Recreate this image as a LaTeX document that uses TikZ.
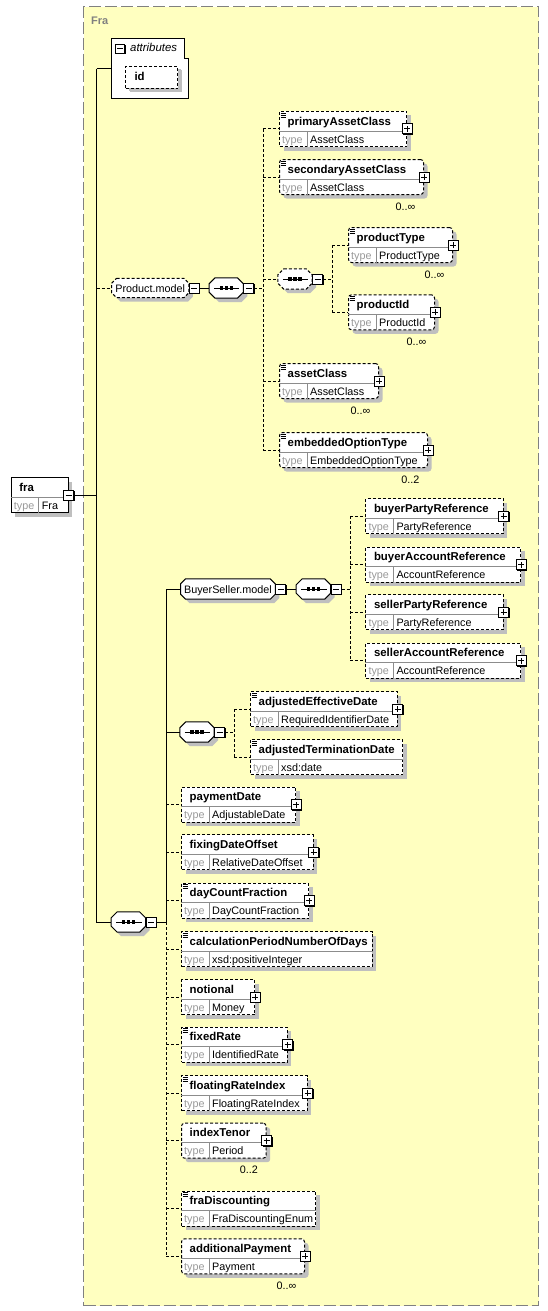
\documentclass[tikz,border=0pt]{standalone}
\usepackage{fontspec}
\setmainfont{Liberation Sans}
\usetikzlibrary{shadows}
\definecolor{typebg}{RGB}{255,255,192}

% element box: [style]{name}{x}{y}{width}{label}{type}
\newcommand{\xel}[7][]{%
  \node[elem, #1, minimum width=#5pt, anchor=north west] (#2) at (#3,#4) {};
  \draw[rowline] ([yshift=-20pt]#2.north west) -- ([yshift=-20pt]#2.north east);
  \draw[rowline] ([xshift=28pt]#2.south west) -- ([xshift=28pt,yshift=-20pt]#2.north west);
  \node[nm, anchor=base west] (#2-n) at ([xshift=8.5pt,yshift=-14pt]#2.north west) {#6};
  \node[tp, anchor=base west] (#2-k) at ([xshift=3pt,yshift=4pt]#2.south west) {type};
  \node[tv, anchor=base west] (#2-t) at ([xshift=31pt,yshift=4pt]#2.south west) {#7};
}
\newcommand{\xplus}[1]{\node[plusbox] (#1-x) at (#1.east) {};}
\newcommand{\xdoc}[1]{\foreach \d in {2,4,6} \draw[line width=0.8pt] ([xshift=1.5pt,yshift=-\d pt]#1.north west) -- ++(5,0);}
\newcommand{\xocc}[2]{\node[occ, anchor=base east] (#1-o) at ([xshift=-8.5pt,yshift=-15pt]#1.south east) {#2};}
% octagon outline round a node: [style]{node}{chamfer}
\newcommand{\octo}[3][]{%
  \fill[black!25, transform canvas={shift={(4pt,-4pt)}}] ([xshift=#3]#2.north west) -- ([xshift=-#3]#2.north east) -- ([yshift=-#3]#2.north east) -- ([yshift=#3]#2.south east) -- ([xshift=-#3]#2.south east) -- ([xshift=#3]#2.south west) -- ([yshift=#3]#2.south west) -- ([yshift=-#3]#2.north west) -- cycle;
  \draw[fill=white, line width=1pt, #1] ([xshift=#3]#2.north west) -- ([xshift=-#3]#2.north east) -- ([yshift=-#3]#2.north east) -- ([yshift=#3]#2.south east) -- ([xshift=-#3]#2.south east) -- ([xshift=#3]#2.south west) -- ([yshift=#3]#2.south west) -- ([yshift=-#3]#2.north west) -- cycle;
}
\newcommand{\seqdots}[1]{%
  \draw[line width=1pt] ([xshift=5pt]#1.west) -- ([xshift=-4pt]#1.east);
  \foreach \d in {-5,0,5} \fill ([xshift=\d pt]#1.center) +(-1.7pt,-1.6pt) rectangle +(1.7pt,1.6pt);
}

\begin{document}
\begin{tikzpicture}[x=1pt, y=-1pt,
    link/.style={line width=1pt},
    opt/.style={line width=1pt, dash pattern=on 3pt off 2pt},
    elem/.style={draw, fill=white, line width=1pt, dash pattern=on 3pt off 2pt, minimum height=35pt, inner sep=0pt,
      drop shadow={shadow xshift=4pt, shadow yshift=-4pt, fill=black!25, opacity=1}},
    multi/.style={rounded corners=3pt},
    must/.style={solid},
    rowline/.style={draw=black!45, line width=0.8pt},
    nm/.style={font=\fontsize{11.4}{13}\selectfont\bfseries, inner sep=0pt},
    tp/.style={font=\fontsize{10.8}{12}\selectfont, text=black!40, inner sep=0pt},
    tv/.style={font=\fontsize{10.8}{12}\selectfont, inner sep=0pt},
    occ/.style={font=\fontsize{10.8}{12}\selectfont, inner sep=0pt},
    grplbl/.style={font=\fontsize{10.8}{12}\selectfont, inner sep=0pt},
    box/.style={inner sep=0pt, minimum height=20pt},
    tog/.style={draw, fill=white, line width=1pt, minimum size=10pt, inner sep=0pt,
      drop shadow={shadow xshift=0.8pt, shadow yshift=-0.8pt, fill=black, opacity=1}},
    plusbox/.style={tog, path picture={\draw[line width=1pt]
      ([xshift=-3pt]path picture bounding box.center) -- ([xshift=3pt]path picture bounding box.center)
      ([yshift=-3pt]path picture bounding box.center) -- ([yshift=3pt]path picture bounding box.center);}},
    minusbox/.style={tog, path picture={\draw[line width=1pt]
      ([xshift=-3pt]path picture bounding box.center) -- ([xshift=3pt]path picture bounding box.center);}},
  ]
  \useasboundingbox (0,0) rectangle (548,1311);

  % complex type Fra
  \node[draw=black!50, line width=1.3pt, dash pattern=on 12pt off 4pt, fill=typebg, inner sep=0pt,
    minimum width=455pt, minimum height=1299pt, anchor=north west] (fratype) at (83,6) {};
  \node[font=\fontsize{11}{13}\selectfont\bfseries, text=black!50, inner sep=0pt, anchor=base west] (fratype-l) at (91,24.5) {Fra};

  % root element
  \xel[must]{fra}{10.7}{477.3}{57}{fra}{Fra}
  \node[minusbox] (fra-m) at (fra.east) {};

  % attributes
  \node[inner sep=0pt, minimum width=76.6pt, minimum height=58.7pt, anchor=north west] (attr) at (111.7,39) {};
  \draw[fill=white, line width=1pt] (attr.north west) -- ([xshift=-4pt]attr.north east) -- ([xshift=-4pt,yshift=-20pt]attr.north east)
    -- ([yshift=-20pt]attr.north east) -- (attr.south east) -- (attr.south west) -- cycle;
  \node[minusbox, minimum size=9pt] (attr-m) at ([xshift=8.5pt,yshift=-10pt]attr.north west) {};
  \node[grplbl, font=\fontsize{11.4}{13}\selectfont\itshape, anchor=base west] (attr-l) at ([xshift=18.3pt,yshift=-13pt]attr.north west) {attributes};
  \node[elem, minimum width=52.3pt, minimum height=22pt, anchor=north west,
    drop shadow={shadow xshift=3pt, shadow yshift=-3pt, fill=black!25, opacity=1}] (id) at (125,66) {};
  \node[nm, anchor=base west] (id-n) at (134.3,81) {id};

  % Product.model
  \node[box, minimum width=77pt, minimum height=19pt] (pmod) at (150.2,288) {};
  \octo[opt]{pmod}{5pt}
  \node[grplbl, anchor=base] (pmod-l) at ([yshift=-4pt]pmod.center) {Product.model};
  \node[minusbox, anchor=west] (pmod-m) at (pmod.east) {};
  \node[box, minimum width=34pt] (c1) at (226.2,288) {};
  \octo{c1}{6pt}
  \seqdots{c1}
  \node[minusbox, anchor=west] (c1-m) at (c1.east) {};

  \xel{pac}{279}{111}{127}{primaryAssetClass}{AssetClass}
  \xel[multi]{sac}{279}{159}{144}{secondaryAssetClass}{AssetClass}
  \node[box, minimum width=34pt] (c2) at (295,279) {};
  \octo[opt]{c2}{6pt}
  \seqdots{c2}
  \node[minusbox, anchor=west] (c2-m) at (c2.east) {};
  \xel[multi]{ptype}{348}{227}{104}{productType}{ProductType}
  \xel[multi]{pid}{348}{294.3}{86}{productId}{ProductId}
  \xel[multi]{acls}{279}{363}{99}{assetClass}{AssetClass}
  \xel[multi]{eot}{279}{432}{148}{embeddedOptionType}{EmbeddedOptionType}
  \foreach \n in {pac,sac,ptype,pid,acls,eot} {\xdoc{\n} \xplus{\n}}
  \xocc{sac}{0..∞}
  \xocc{ptype}{0..∞}
  \xocc{pid}{0..∞}
  \xocc{acls}{0..∞}
  \xocc{eot}{0..2}

  % BuyerSeller.model
  \node[box, minimum width=94.3pt] (bsmod) at (227.9,589) {};
  \octo{bsmod}{5pt}
  \node[grplbl, anchor=base] (bsmod-l) at ([yshift=-4pt]bsmod.center) {BuyerSeller.model};
  \node[minusbox, anchor=west] (bsmod-m) at (bsmod.east) {};
  \node[box, minimum width=34pt] (c3) at (313.4,589) {};
  \octo{c3}{6pt}
  \seqdots{c3}
  \node[minusbox, anchor=west] (c3-m) at (c3.east) {};
  \xel{bpr}{365.3}{498.3}{137.4}{buyerPartyReference}{PartyReference}
  \xel{bar}{365.3}{546.7}{154.7}{buyerAccountReference}{AccountReference}
  \xel{spr}{365.3}{594.3}{137.4}{sellerPartyReference}{PartyReference}
  \xel{sar}{365.3}{642.7}{154.7}{sellerAccountReference}{AccountReference}
  \foreach \n in {bpr,bar,spr,sar} {\xplus{\n}}

  % dates sequence
  \node[box, minimum width=34pt] (c4) at (197,732) {};
  \octo{c4}{6pt}
  \seqdots{c4}
  \node[minusbox, anchor=west] (c4-m) at (c4.east) {};
  \xel{aed}{250}{691}{146.7}{adjustedEffectiveDate}{RequiredIdentifierDate}
  \xel{atd}{250}{739}{152.3}{adjustedTerminationDate}{xsd:date}
  \xdoc{aed} \xdoc{atd} \xplus{aed}

  % main sequence
  \node[box, minimum width=34pt] (c5) at (128.4,922) {};
  \octo{c5}{6pt}
  \seqdots{c5}
  \node[minusbox, anchor=west] (c5-m) at (c5.east) {};
  \xel{pdate}{181}{786.7}{114}{paymentDate}{AdjustableDate}
  \xel{fdo}{181}{834.3}{131.7}{fixingDateOffset}{RelativeDateOffset}
  \xel{dcf}{181}{882.7}{127.3}{dayCountFraction}{DayCountFraction}
  \xel{cpnd}{181}{931}{190.7}{calculationPeriodNumberOfDays}{xsd:positiveInteger}
  \xel{notl}{181}{979}{73}{notional}{Money}
  \xel{frate}{181}{1026.7}{105.7}{fixedRate}{IdentifiedRate}
  \xel{fri}{181}{1075}{125.7}{floatingRateIndex}{FloatingRateIndex}
  \xel[multi]{itenor}{181}{1122.7}{84.7}{indexTenor}{Period}
  \xel{fradisc}{181}{1190.7}{134}{fraDiscounting}{FraDiscountingEnum}
  \xel[multi]{addpay}{181}{1238.3}{123}{additionalPayment}{Payment}
  \foreach \n in {dcf,cpnd,frate,fri,fradisc} {\xdoc{\n}}
  \foreach \n in {pdate,fdo,dcf,notl,frate,fri,itenor,addpay} {\xplus{\n}}
  \xocc{itenor}{0..2}
  \xocc{addpay}{0..∞}

  % connectors
  \coordinate (trunk) at (96.7,69);
  \draw[link] (fra-m.east) -- (fra-m.east -| trunk);
  \draw[link] (trunk) -- (trunk -| attr.west);
  \draw[link] (trunk) -- (trunk |- c5.west) -- (c5.west);
  \draw[opt] (trunk |- pmod.west) -- (pmod.west);
  \draw[link] (pmod-m.east) -- (c1.west);

  \coordinate (pmbus) at (263.3,288);
  \draw[opt] (c1-m.east) -- (pmbus);
  \draw[opt] (pmbus |- pac.west) -- (pmbus |- eot.west);
  \foreach \n in {pac,sac,c2,acls,eot} \draw[opt] (pmbus |- \n.west) -- (\n.west);
  \coordinate (ptbus) at (332,279);
  \draw[opt] (c2-m.east) -- (ptbus);
  \draw[opt] (ptbus |- ptype.west) -- (ptbus |- pid.west);
  \foreach \n in {ptype,pid} \draw[opt] (ptbus |- \n.west) -- (\n.west);

  \coordinate (bus) at (166,922);
  \draw[link] (c5-m.east) -- (bus);
  \draw[link] (bus) -- (bus |- bsmod.west) -- (bsmod.west);
  \draw[link] (bus |- c4.west) -- (c4.west);
  \draw[opt] (bus) -- (bus |- addpay.west);
  \foreach \n in {pdate,fdo,dcf,cpnd,notl,frate,fri,itenor,fradisc,addpay} \draw[opt] (bus |- \n.west) -- (\n.west);
  \draw[link] (bsmod-m.east) -- (c3.west);

  \coordinate (bsbus) at (350,589);
  \draw[opt] (c3-m.east) -- (bsbus);
  \draw[opt] (bsbus |- bpr.west) -- (bsbus |- sar.west);
  \foreach \n in {bpr,bar,spr,sar} \draw[opt] (bsbus |- \n.west) -- (\n.west);

  \coordinate (dtbus) at (234,732);
  \draw[opt] (c4-m.east) -- (dtbus);
  \draw[opt] (dtbus |- aed.west) -- (dtbus |- atd.west);
  \foreach \n in {aed,atd} \draw[opt] (dtbus |- \n.west) -- (\n.west);
\end{tikzpicture}
\end{document}
